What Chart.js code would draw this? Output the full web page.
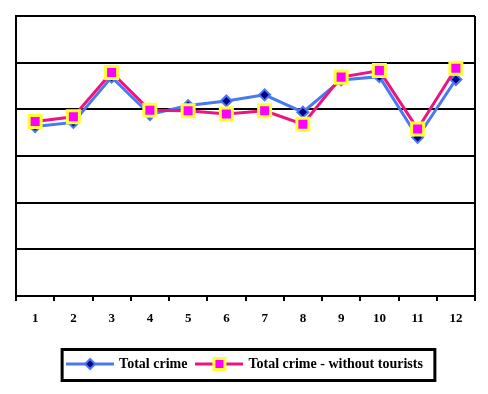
<!DOCTYPE html>
<html>
<head>
<meta charset="utf-8">
<script src="https://cdn.jsdelivr.net/npm/chart.js@4.4.1/dist/chart.umd.min.js"></script>
<style>
  html, body { margin: 0; padding: 0; background: #fff; }
</style>
</head>
<body>
<canvas id="chart" width="488" height="394"></canvas>
<script>
// data
const months = ['1', '2', '3', '4', '5', '6', '7', '8', '9', '10', '11', '12'];
const totalCrime = [3.63, 3.72, 4.69, 3.89, 4.08, 4.18, 4.31, 3.94, 4.63, 4.70, 3.40, 4.64];
const withoutTourists = [3.74, 3.84, 4.79, 3.98, 3.97, 3.90, 3.97, 3.68, 4.69, 4.83, 3.58, 4.88];
const yMin = 0, yMax = 6, yStep = 1;

const BLUE = '#4a78ee';
const NAVY = '#000080';
const PINK = '#ee1480';
const MAGENTA = '#ff00ff';
const YELLOW = '#ffff33';
const SERIF = "'Liberation Serif', 'Times New Roman', serif";

// little legend samples: line with the marker on it
function legendSample(kind) {
  const c = document.createElement('canvas');
  c.width = 48; c.height = 16;
  const g = c.getContext('2d');
  g.strokeStyle = kind === 'blue' ? BLUE : PINK;
  g.lineWidth = 3;
  g.beginPath(); g.moveTo(0, 8); g.lineTo(48, 8); g.stroke();
  if (kind === 'blue') {
    g.beginPath();
    g.moveTo(24, 3); g.lineTo(29, 8); g.lineTo(24, 13); g.lineTo(19, 8); g.closePath();
    g.fillStyle = NAVY; g.fill();
    g.lineWidth = 2; g.strokeStyle = BLUE; g.stroke();
  } else {
    g.fillStyle = YELLOW; g.fillRect(17, 1, 14, 14);
    g.fillStyle = MAGENTA; g.fillRect(20, 4, 8, 8);
  }
  return c;
}

const frame = {
  id: 'frame',
  beforeDatasetsDraw(chart) {
    const { ctx, chartArea } = chart;
    ctx.save();
    ctx.strokeStyle = '#000';
    ctx.lineWidth = 2;
    ctx.beginPath();
    ctx.moveTo(chartArea.right, chartArea.top);
    ctx.lineTo(chartArea.right, chartArea.bottom);
    ctx.stroke();
    ctx.restore();
  },
  afterDraw(chart) {
    const boxes = chart.legend.legendHitBoxes;
    if (!boxes || !boxes.length) return;
    const left = Math.min(...boxes.map(b => b.left)) - 6;
    const right = Math.max(...boxes.map(b => b.left + b.width)) + 12;
    const mid = boxes[0].top + boxes[0].height / 2;
    const ctx = chart.ctx;
    ctx.save();
    ctx.strokeStyle = '#000';
    ctx.lineWidth = 3;
    ctx.strokeRect(left, mid - 14.5, right - left, 31);
    ctx.restore();
  }
};

new Chart(document.getElementById('chart'), {
  type: 'line',
  data: {
    labels: months,
    datasets: [{
      label: 'Total crime',
      data: totalCrime,
      borderColor: BLUE,
      borderWidth: 3,
      pointStyle: 'rectRot',
      pointRadius: 5.5,
      pointBackgroundColor: NAVY,
      pointBorderColor: BLUE,
      pointBorderWidth: 2,
      tension: 0,
      order: 1
    }, {
      label: 'Total crime - without tourists',
      data: withoutTourists,
      borderColor: PINK,
      borderWidth: 3,
      pointStyle: 'rect',
      pointRadius: 8.5,
      pointBackgroundColor: MAGENTA,
      pointBorderColor: YELLOW,
      pointBorderWidth: 3,
      tension: 0,
      order: 0
    }]
  },
  options: {
    responsive: false,
    animation: false,
    layout: { padding: { left: 16, right: 13, top: 16, bottom: 13 } },
    scales: {
      x: {
        offset: true,
        grid: { offset: true, drawOnChartArea: false, color: '#000', lineWidth: 2, tickLength: 5 },
        border: { color: '#000', width: 2 },
        ticks: { color: '#000', padding: 10, font: { family: SERIF, size: 13, weight: 'bold' } },
        afterFit(scale) { scale.height = 51; }
      },
      y: {
        min: yMin,
        max: yMax,
        ticks: { stepSize: yStep, display: false },
        grid: { color: '#000', lineWidth: 2, drawTicks: false },
        border: { color: '#000', width: 2 }
      }
    },
    plugins: {
      tooltip: { enabled: false },
      legend: {
        position: 'bottom',
        labels: {
          usePointStyle: true,
          pointStyleWidth: 44,
          padding: 10,
          color: '#000',
          font: { family: SERIF, size: 14, weight: 'bold' },
          generateLabels(chart) {
            return chart.data.datasets.map((ds, i) => ({
              text: ds.label,
              datasetIndex: i,
              pointStyle: legendSample(i === 0 ? 'blue' : 'pink'),
              fontColor: '#000',
              hidden: false,
              lineWidth: 0
            }));
          }
        }
      }
    }
  },
  plugins: [frame]
});
</script>
</body>
</html>
